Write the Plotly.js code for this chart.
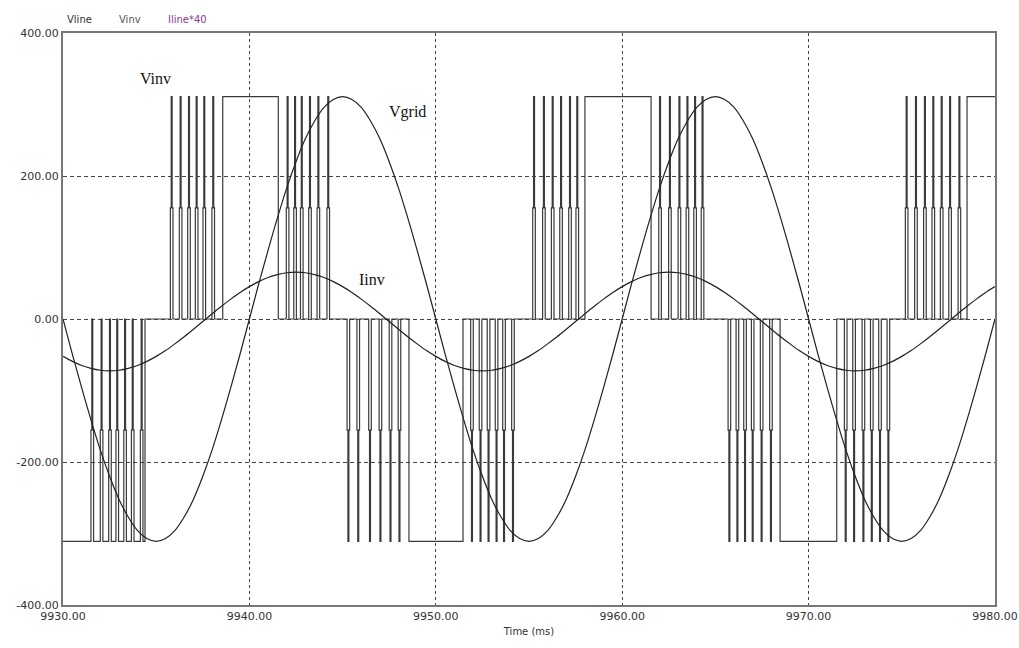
<!DOCTYPE html>
<html>
<head>
<meta charset="utf-8">
<script src="https://cdn.plot.ly/plotly-3.0.1.min.js"></script>
<style>html,body{margin:0;padding:0;background:#fff;}#chart{width:1019px;height:648px;}</style>
</head>
<body>
<div id="chart"></div>
<script>
// ---- data ----
// time grid of the sine-like curves (ms), 0.5 ms steps
const t0 = 9930, dt = 0.5;
const vgrid = [
 0,-49,-96,-141,-183,-220,-252,-277,-296,-307,-311,-307,-296,-277,-252,-220,-183,-141,-96,-49,
 0,49,96,141,183,220,252,277,296,307,311,307,296,277,252,220,183,141,96,49,
 0,-49,-96,-141,-183,-220,-252,-277,-296,-307,-311,-307,-296,-277,-252,-220,-183,-141,-96,-49,
 0,49,96,141,183,220,252,277,296,307,311,307,296,277,252,220,183,141,96,49,
 0,-49,-96,-141,-183,-220,-252,-277,-296,-307,-311,-307,-296,-277,-252,-220,-183,-141,-96,-49,
 0
];
const iinv = [
 -52.3,-59.3,-65.0,-69.1,-71.7,-72.5,-71.7,-69.1,-65.0,-59.3,-52.3,-44.1,-34.8,-24.8,-14.3,
 -3.5,7.3,17.8,27.8,37.1,45.3,52.3,58.0,62.1,64.7,65.5,64.7,62.1,58.0,52.3,45.3,37.1,27.8,17.8,7.3,
 -3.5,-14.3,-24.8,-34.8,-44.1,-52.3,-59.3,-65.0,-69.1,-71.7,-72.5,-71.7,-69.1,-65.0,-59.3,-52.3,-44.1,-34.8,-24.8,-14.3,
 -3.5,7.3,17.8,27.8,37.1,45.3,52.3,58.0,62.1,64.7,65.5,64.7,62.1,58.0,52.3,45.3,37.1,27.8,17.8,7.3,
 -3.5,-14.3,-24.8,-34.8,-44.1,-52.3,-59.3,-65.0,-69.1,-71.7,-72.5,-71.7,-69.1,-65.0,-59.3,-52.3,-44.1,-34.8,-24.8,-14.3,
 -3.5,7.3,17.8,27.8,37.1,45.3
];
// Vinv: base level held between breakpoints
const vinvBreakT = [9930, 9934.40, 9938.57, 9941.55, 9948.56, 9951.46, 9958.00, 9961.55, 9968.47, 9971.51, 9978.50, 9980];
const vinvBase   = [-311, 0, 311, 0, -311, 0, 311, 0, -311, 0, 311];
// Vinv pulse groups: pulse centre times (ms) and the level each pulse reaches
const pulseTimes = [
 [9931.57, 9932.07, 9932.52, 9932.91, 9933.33, 9933.74, 9934.22],
 [9935.83, 9936.31, 9936.76, 9937.17, 9937.58, 9938.06],
 [9942.05, 9942.45, 9942.81, 9943.25, 9943.70, 9944.23],
 [9945.31, 9945.84, 9946.47, 9947.03, 9947.57, 9948.05],
 [9951.94, 9952.40, 9952.83, 9953.26, 9953.66, 9954.14],
 [9955.27, 9955.80, 9956.27, 9956.72, 9957.20, 9957.59],
 [9962.03, 9962.56, 9963.07, 9963.50, 9963.91, 9964.31],
 [9965.75, 9966.18, 9966.59, 9967.00, 9967.48, 9967.98],
 [9971.99, 9972.44, 9972.94, 9973.39, 9973.83, 9974.28],
 [9975.26, 9975.76, 9976.24, 9976.69, 9977.14, 9977.59, 9978.09]
];
const pulsePeak = [0, 311, 311, -311, -311, 311, 311, -311, -311, 311];
const pulseWideMs = 0.14, pulseNarrowMs = 0.05;

const xTickVals = [9930, 9940, 9950, 9960, 9970, 9980];
const xTickText = ['9930.00','9940.00','9950.00','9960.00','9970.00','9980.00'];
const yTickVals = [400, 200, 0, -200, -400];
const yTickText = ['400.00','200.00','0.00','-200.00','-400.00'];

// ---- build traces ----
const tgrid = vgrid.map((_, k) => t0 + k * dt);

const allPulses = [];
pulseTimes.forEach((g, gi) => g.forEach(t => allPulses.push({t: t, peak: pulsePeak[gi]})));
allPulses.sort((a, b) => a.t - b.t);

const vx = [], vy = [];
for (let i = 0; i < vinvBase.length; i++) {
  const a = vinvBreakT[i], b = vinvBreakT[i + 1], base = vinvBase[i];
  vx.push(a); vy.push(base);
  allPulses.filter(p => p.t >= a && p.t < b).forEach(p => {
    const mid = (base + p.peak) / 2, h1 = pulseWideMs / 2, h2 = pulseNarrowMs / 2;
    vx.push(p.t - h1, p.t - h1, p.t - h2, p.t - h2, p.t + h2, p.t + h2, p.t + h1, p.t + h1);
    vy.push(base, mid, mid, p.peak, p.peak, mid, mid, base);
  });
  vx.push(b); vy.push(base);
}

const traces = [
  {x: vx, y: vy, type: 'scatter', mode: 'lines', line: {color: '#3a3a3a', width: 1.2}, name: 'Vinv'},
  {x: tgrid, y: vgrid, type: 'scatter', mode: 'lines', line: {color: '#222', width: 1.2, shape: 'spline'}, name: 'Vline'},
  {x: tgrid, y: iinv, type: 'scatter', mode: 'lines', line: {color: '#222', width: 1.2, shape: 'spline'}, name: 'Iline*40'}
];

const tickFont = {family: 'DejaVu Sans, Verdana, sans-serif', size: 11, color: '#333'};
const serif = {family: 'Liberation Serif, Times New Roman, serif', size: 16, color: '#111'};

const layout = {
  width: 1019, height: 648,
  margin: {l: 63, r: 24, t: 33, b: 43},
  paper_bgcolor: '#fff', plot_bgcolor: '#fff',
  showlegend: false,
  xaxis: {
    range: [9930, 9980], tickvals: xTickVals, ticktext: xTickText, tickfont: tickFont,
    showgrid: true, gridcolor: '#444', gridwidth: 1, griddash: 'dot',
    zeroline: false, showline: true, mirror: true, linecolor: '#777', linewidth: 2,
    ticks: '', title: {text: 'Time (ms)', font: {family: 'DejaVu Sans, Verdana, sans-serif', size: 10, color: '#333'}, standoff: 6}
  },
  yaxis: {
    range: [-400, 400], tickvals: yTickVals, ticktext: yTickText, tickfont: tickFont,
    showgrid: true, gridcolor: '#444', gridwidth: 1, griddash: '4px,3px',
    zeroline: false, showline: true, mirror: true, linecolor: '#777', linewidth: 2,
    ticks: ''
  },
  annotations: [
    {xref: 'paper', yref: 'paper', x: 0.002, y: 1.01, xanchor: 'left', yanchor: 'bottom', text: 'Vline', showarrow: false, font: {family: 'DejaVu Sans, sans-serif', size: 10, color: '#333'}},
    {xref: 'paper', yref: 'paper', x: 0.058, y: 1.01, xanchor: 'left', yanchor: 'bottom', text: 'Vinv', showarrow: false, font: {family: 'DejaVu Sans, sans-serif', size: 10, color: '#555'}},
    {xref: 'paper', yref: 'paper', x: 0.11, y: 1.01, xanchor: 'left', yanchor: 'bottom', text: 'Iline*40', showarrow: false, font: {family: 'DejaVu Sans, sans-serif', size: 10, color: '#8b3a8b'}},
    {x: 9934.94, y: 337, text: 'Vinv', showarrow: false, font: serif},
    {x: 9948.5, y: 289, text: 'Vgrid', showarrow: false, font: serif},
    {x: 9946.6, y: 55, text: 'Iinv', showarrow: false, font: serif}
  ]
};

Plotly.newPlot('chart', traces, layout, {staticPlot: true, displayModeBar: false});
</script>
</body>
</html>
